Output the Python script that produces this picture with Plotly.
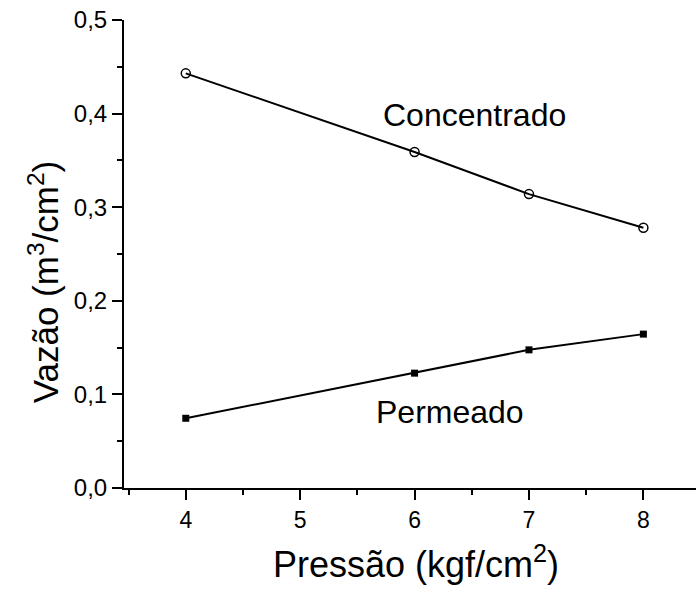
import plotly.graph_objects as go

pressao = [4, 6, 7, 8]
concentrado = [0.443, 0.359, 0.314, 0.278]
permeado = [0.0745, 0.1227, 0.1476, 0.1644]
y_tick_vals = [0.0, 0.1, 0.2, 0.3, 0.4, 0.5]
y_tick_text = ["0,0", "0,1", "0,2", "0,3", "0,4", "0,5"]
x_tick_vals = [4, 5, 6, 7, 8]
x_tick_text = ["4", "5", "6", "7", "8"]

font = "Liberation Sans, Arial, sans-serif"

fig = go.Figure()
fig.add_trace(go.Scatter(x=pressao, y=concentrado, mode="lines+markers", name="Concentrado",
                         line=dict(color="black", width=2),
                         marker=dict(symbol="circle-open", size=9, color="black", line=dict(width=1.5))))
fig.add_trace(go.Scatter(x=pressao, y=permeado, mode="lines+markers", name="Permeado",
                         line=dict(color="black", width=2),
                         marker=dict(symbol="square", size=7, color="black")))

fig.add_annotation(x=6.52, y=0.398, text="Concentrado", showarrow=False,
                   font=dict(family=font, size=32, color="black"))
fig.add_annotation(x=6.31, y=0.081, text="Permeado", showarrow=False,
                   font=dict(family=font, size=32, color="black"))

# axis titles
fig.add_annotation(xref="paper", yref="paper", x=-0.14, y=0.4415, xanchor="center", yanchor="middle",
                   text="Vazão (m<sup>3</sup>/cm<sup>2</sup>)",
                   textangle=-90, showarrow=False, font=dict(family=font, size=35, color="black"))
fig.add_annotation(xref="paper", yref="paper", x=0.51, y=-0.158, xanchor="center", yanchor="middle",
                   text="Pressão (kgf/cm<sup>2</sup>)",
                   showarrow=False, font=dict(family=font, size=36, color="black"))

fig.update_layout(
    width=696, height=592,
    margin=dict(l=124, r=0, t=20, b=104, autoexpand=False),
    paper_bgcolor="white", plot_bgcolor="white",
    showlegend=False,
    font=dict(family=font, color="black"),
    xaxis=dict(range=[3.46, 8.46], tickvals=x_tick_vals, ticktext=x_tick_text, automargin=False,
               ticklabeloverflow="allow",
               showgrid=False, zeroline=False, showline=True, linecolor="black", linewidth=2,
               ticks="outside", ticklen=10, tickwidth=2, tickcolor="black",
               tickfont=dict(size=23),
               minor=dict(dtick=0.5, ticks="outside", ticklen=5, tickwidth=1.5, tickcolor="black")),
    yaxis=dict(range=[0, 0.5], tickvals=y_tick_vals, ticktext=y_tick_text, automargin=False,
               ticklabeloverflow="allow",
               showgrid=False, zeroline=False, showline=True, linecolor="black", linewidth=2,
               ticks="outside", ticklen=10, tickwidth=2, tickcolor="black",
               tickfont=dict(size=24),
               minor=dict(dtick=0.05, ticks="outside", ticklen=5, tickwidth=1.5, tickcolor="black")),
)

fig.write_html("out.html", config={"displayModeBar": False},
               post_script="document.body.style.margin='0';")
